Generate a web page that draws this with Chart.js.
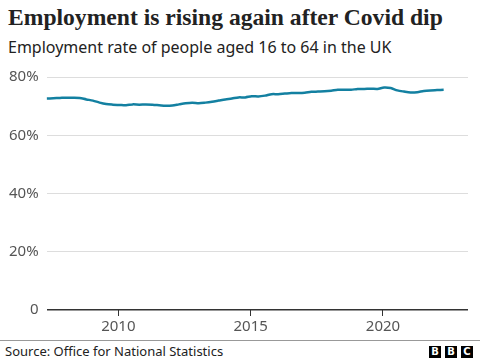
<!DOCTYPE html>
<html>
<head>
<meta charset="utf-8">
<script src="https://cdn.jsdelivr.net/npm/chart.js@4"></script>
<style>
  body { margin: 0; width: 480px; height: 360px; background: #fff; overflow: hidden; position: relative; font-family: "Noto Sans", sans-serif; }
  #title { position: absolute; left: 8px; top: 4px; font: bold 23.6px "Liberation Serif", serif; color: #222; white-space: nowrap; }
  #subtitle { position: absolute; left: 8px; top: 36px; font-size: 16px; color: #222; white-space: nowrap; }
  #wrap { position: absolute; left: 0; top: 60px; width: 480px; height: 280px; }
  #rule { position: absolute; left: 0; top: 340px; width: 480px; height: 1px; background: #999; }
  #source { position: absolute; left: 5px; top: 342px; font-size: 13px; color: #222; }
  #logo { position: absolute; left: 429px; top: 346px; display: flex; gap: 4px; }
  #logo span { display: block; width: 12px; height: 12px; background: #000; color: #fff; font: bold 10px "DejaVu Sans", sans-serif; text-align: center; line-height: 12px; }
</style>
</head>
<body>
<div id="title">Employment is rising again after Covid dip</div>
<div id="subtitle">Employment rate of people aged 16 to 64 in the UK</div>
<div id="wrap"><canvas id="chart1"></canvas></div>
<div id="rule"></div>
<div id="source">Source: Office for National Statistics</div>
<div id="logo"><span>B</span><span>B</span><span>C</span></div>
<script>
// quarterly periods (middle month of rolling three months)
const periods = [
  "2007-04", "2007-07", "2007-10", "2008-01", "2008-04", "2008-07", "2008-10",
  "2009-01", "2009-04", "2009-07", "2009-10", "2010-01", "2010-04", "2010-07", "2010-10",
  "2011-01", "2011-04", "2011-07", "2011-10", "2012-01", "2012-04", "2012-07", "2012-10",
  "2013-01", "2013-04", "2013-07", "2013-10", "2014-01", "2014-04", "2014-07", "2014-10",
  "2015-01", "2015-04", "2015-07", "2015-10", "2016-01", "2016-04", "2016-07", "2016-10",
  "2017-01", "2017-04", "2017-07", "2017-10", "2018-01", "2018-04", "2018-07", "2018-10",
  "2019-01", "2019-04", "2019-07", "2019-10", "2020-01", "2020-04", "2020-07", "2020-10",
  "2021-01", "2021-04", "2021-07", "2021-10", "2022-01", "2022-04"
];
const rates = [
  72.6, 72.7, 72.8, 72.9, 72.9, 72.8, 72.3,
  71.9, 71.2, 70.7, 70.5, 70.4, 70.3, 70.6, 70.5,
  70.6, 70.5, 70.3, 70.1, 70.2, 70.6, 71.0, 71.2,
  71.0, 71.2, 71.5, 71.9, 72.3, 72.6, 73.0, 73.0,
  73.4, 73.3, 73.6, 74.1, 74.1, 74.3, 74.5, 74.5,
  74.6, 74.9, 75.0, 75.1, 75.3, 75.6, 75.6, 75.6,
  75.9, 75.9, 76.0, 75.9, 76.4, 76.2, 75.4, 75.0,
  74.7, 74.8, 75.2, 75.4, 75.5, 75.6
];
const yearTicks = [2010, 2015, 2020];
const pctTicks = [0, 20, 40, 60, 80];

const toYear = (p) => {
  const [y, m] = p.split("-").map(Number);
  return y + (m - 0.5) / 12;
};
const points = periods.map((p, i) => ({ x: toYear(p), y: rates[i] }));

new Chart(document.getElementById("chart1"), {
  type: "line",
  data: {
    datasets: [{
      data: points,
      borderColor: "#1380A1",
      borderWidth: 2.5,
      pointRadius: 0,
      tension: 0.3,
    }],
  },
  options: {
    responsive: true,
    maintainAspectRatio: false,
    animation: false,
    layout: { padding: { left: 1, right: 12, top: 6, bottom: 2 } },
    plugins: { legend: { display: false }, tooltip: { enabled: false } },
    scales: {
      x: {
        type: "linear",
        min: points[0].x,
        max: points[0].x + 15.92,
        afterBuildTicks: (axis) => { axis.ticks = yearTicks.map((v) => ({ value: v })); },
        border: { display: false },
        grid: { drawOnChartArea: false, drawTicks: true, tickLength: 6, color: "#333", lineWidth: 1 },
        ticks: { color: "#555", font: { family: "Noto Sans", size: 15 }, padding: 2, maxRotation: 0, callback: (v) => String(v) },
      },
      y: {
        min: 0,
        max: 80,
        afterBuildTicks: (axis) => { axis.ticks = pctTicks.map((v) => ({ value: v })); },
        border: { display: false },
        grid: {
          drawTicks: false,
          color: (ctx) => (ctx.tick && ctx.tick.value === 0 ? "#333" : "#dddddd"),
          lineWidth: (ctx) => (ctx.tick && ctx.tick.value === 0 ? 1.5 : 1),
        },
        ticks: { color: "#555", font: { family: "Noto Sans", size: 15 }, padding: 8, callback: (v) => (v === 0 ? "0" : v + "%") },
      },
    },
  },
});
</script>
</body>
</html>
